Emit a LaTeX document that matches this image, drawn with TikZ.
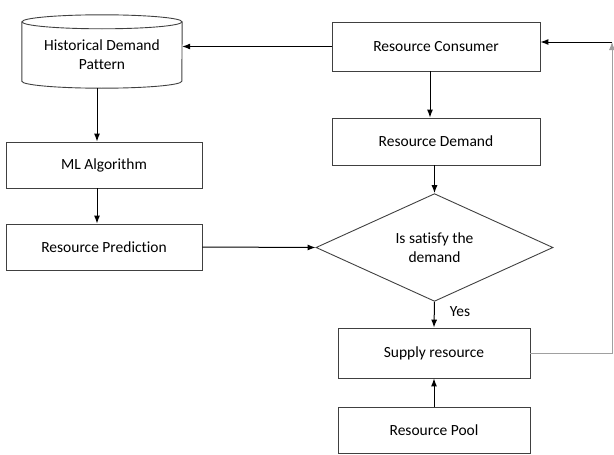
\documentclass[tikz,border=0pt]{standalone}
\usepackage{fontspec}
\setmainfont{Carlito}[Ligatures=NoCommon]
\usetikzlibrary{arrows.meta,shapes.geometric}
\definecolor{boxline}{HTML}{404040}
\definecolor{backline}{HTML}{A0A0A0}

\begin{document}
\begin{tikzpicture}[x=1pt, y=-1pt,
  font=\fontsize{15.5pt}{19pt}\selectfont,
  >={Latex[length=8pt,width=6pt]},
  block/.style={draw=boxline, line width=0.9pt, align=center, inner sep=0pt},
  flow/.style={->, line width=1pt}]
\useasboundingbox (0,0) rectangle (614,455);

% left column
\node[align=center, minimum width=160pt, minimum height=66pt, inner sep=0pt] (hist) at (102,55) {Historical Demand\\Pattern};
\draw[boxline, line width=0.9pt] (hist.north west) -- ([yshift=7pt]hist.south west)
  arc[start angle=180, end angle=360, x radius=80pt, y radius=7pt]
  -- (hist.north east);
\draw[boxline, line width=0.9pt] (hist.north) ellipse[x radius=80pt, y radius=7pt];
\node[block, minimum width=196pt, minimum height=46pt] (ml) at (104,165) {ML Algorithm};
\node[block, minimum width=196pt, minimum height=46pt] (pred) at (104,247) {Resource Prediction};

% right column
\node[block, minimum width=208pt, minimum height=49pt] (cons) at (436,46.5) {Resource Consumer};
\node[block, minimum width=208pt, minimum height=47pt] (dem) at (436,141.5) {Resource Demand};
\node[block, diamond, minimum width=237pt, minimum height=101pt] (sat) at (434.5,247.5) {Is satisfy the\\demand};
\node[block, minimum width=192pt, minimum height=50pt] (sup) at (434,353) {Supply resource};
\node[block, minimum width=192pt, minimum height=46pt] (pool) at (434,430) {Resource Pool};
\node (yes) at (460,312) {Yes};
\coordinate (corner) at (612,42);

% arrows
\draw[flow] (cons.west) -- (cons.west -| hist.east);
\draw[flow] ([xshift=-5pt]hist.south) -- ([xshift=-5pt]hist.south |- ml.north);
\draw[flow] (ml.south -| 97,0) -- (pred.north -| 97,0);
\draw[flow] (pred.east) -- (sat.west);
\draw[flow] (cons.south -| 430,0) -- (dem.north -| 430,0);
\draw[flow] (dem.south -| sat.north) -- (sat.north);
\draw[flow] (sat.south) -- (sup.north);
\draw[flow] (pool.north) -- (sup.south);
\draw[->, backline, line width=0.8pt] (sup.east) -| (corner);
\draw[flow] (corner) -- (cons.east |- corner);
\end{tikzpicture}
\end{document}
